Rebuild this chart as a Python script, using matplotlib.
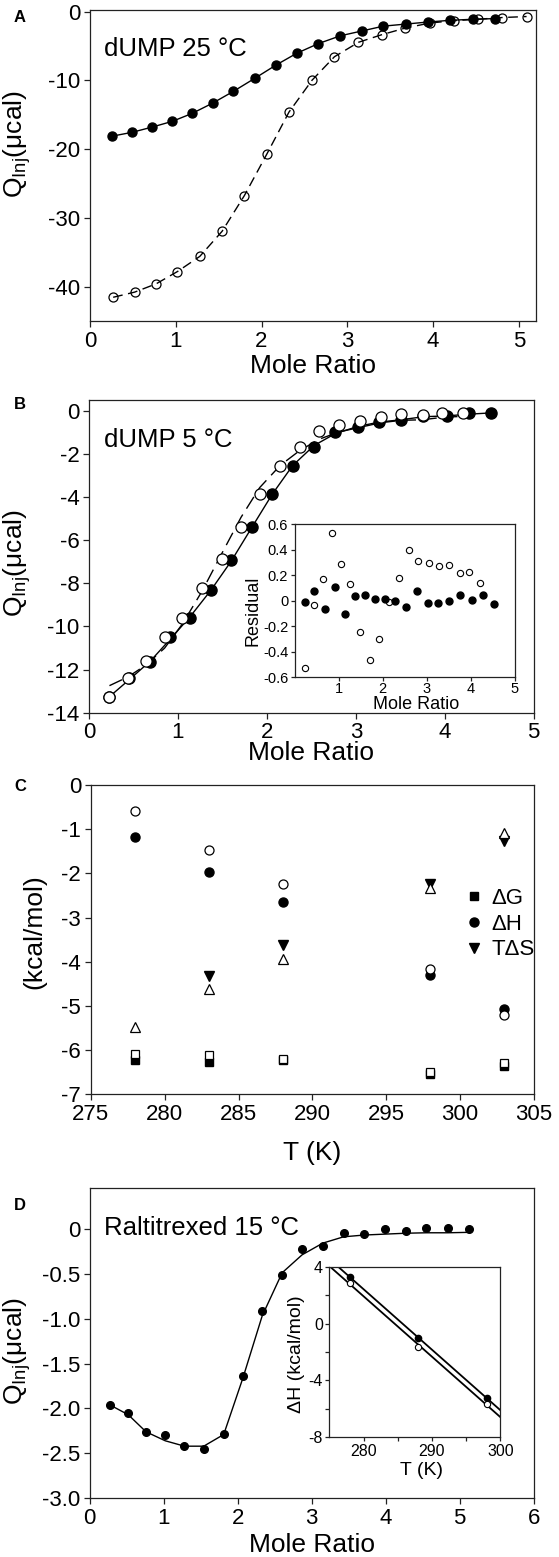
import matplotlib
matplotlib.use('Agg')
import matplotlib.pyplot as plt
import numpy as np
from matplotlib.lines import Line2D
from matplotlib.ticker import FuncFormatter

plt.rcParams['font.family'] = ['Liberation Sans', 'DejaVu Sans']
plt.rcParams['mathtext.default'] = 'regular'
plt.rcParams['axes.unicode_minus'] = False

# ---------------- Data ----------------
# Panel A: dUMP 25 C
a_fill_x = [0.26, 0.49, 0.72, 0.96, 1.19, 1.43, 1.67, 1.92, 2.17, 2.41, 2.66, 2.92,
            3.17, 3.42, 3.68, 3.94, 4.20, 4.46, 4.72]
a_fill_y = [-18.1, -17.55, -16.8, -15.95, -14.8, -13.3, -11.6, -9.7, -7.75, -6.05,
            -4.65, -3.5, -2.8, -2.1, -1.8, -1.5, -1.25, -1.1, -1.0]
a_open_x = [0.27, 0.52, 0.77, 1.02, 1.28, 1.54, 1.80, 2.06, 2.32, 2.59, 2.85, 3.13,
            3.40, 3.67, 3.96, 4.24, 4.52, 4.80, 5.09]
a_open_y = [-41.55, -40.8, -39.6, -37.8, -35.6, -31.95, -26.75, -20.75, -14.6, -9.95,
            -6.55, -4.45, -3.35, -2.4, -1.65, -1.3, -1.1, -0.85, -0.7]

# Panel B: dUMP 5 C
b_fill_x = [0.23, 0.45, 0.69, 0.91, 1.14, 1.37, 1.60, 1.83, 2.06, 2.29, 2.53, 2.77,
            3.02, 3.26, 3.51, 3.76, 4.02, 4.27, 4.52]
b_fill_y = [-13.27, -12.4, -11.67, -10.5, -9.63, -8.29, -6.92, -5.4, -3.86, -2.54,
            -1.66, -0.98, -0.75, -0.54, -0.42, -0.23, -0.23, -0.11, -0.12]
b_fill_res = [-0.012, 0.075, -0.064, 0.106, -0.10, 0.035, 0.046, 0.014, 0.012, -0.001,
              -0.048, 0.075, -0.02, -0.014, -0.004, 0.046, 0.007, 0.048, -0.022]
b_open_x = [0.23, 0.44, 0.64, 0.85, 1.05, 1.27, 1.49, 1.71, 1.92, 2.15, 2.37, 2.59,
            2.81, 3.05, 3.28, 3.51, 3.75, 3.97, 4.20]
b_open_y = [-13.27, -12.37, -11.62, -10.47, -9.6, -8.24, -6.89, -5.4, -3.86, -2.54,
            -1.66, -0.92, -0.67, -0.47, -0.28, -0.16, -0.2, -0.08, -0.12]
b_open_res = [-0.524, -0.033, 0.169, 0.535, 0.286, 0.132, -0.247, -0.464, -0.302, -0.007,
              0.182, 0.396, 0.312, 0.294, 0.273, 0.283, 0.216, 0.226, 0.137]

# Panel C: thermodynamics vs T
c_T = [278, 283, 288, 298, 303]
c_dG_fill = [-6.22, -6.28, -6.22, -6.53, -6.37]
c_dG_open = [-6.09, -6.12, -6.20, -6.50, -6.29]
c_dH_fill = [-1.18, -1.96, -2.64, -4.31, -5.08]
c_dH_open = [-0.58, -1.48, -2.24, -4.16, -5.20]
c_TdS_T_fill = [283, 288, 298, 303]
c_TdS_fill = [-4.32, -3.62, -2.23, -1.27]
c_TdS_open = [-5.48, -4.62, -3.94, -2.32, -1.09]

# Panel D: Raltitrexed 15 C
d_x = [0.27, 0.52, 0.76, 1.02, 1.28, 1.54, 1.81, 2.07, 2.33, 2.60, 2.87, 3.15, 3.43,
       3.71, 3.99, 4.27, 4.55, 4.84, 5.13]
d_y = [-1.96, -2.05, -2.26, -2.30, -2.42, -2.45, -2.28, -1.64, -0.92, -0.51, -0.23,
       -0.19, -0.045, -0.056, -0.004, -0.026, 0.007, 0.007, -0.007]
d_fit = [-1.96, -2.07, -2.26, -2.36, -2.42, -2.42, -2.29, -1.66, -0.97, -0.49, -0.29,
         -0.16, -0.09, -0.07, -0.06, -0.05, -0.045, -0.045, -0.04]
d_in_T = [278, 288, 298]
d_in_dH_fill = [3.3, -1.04, -5.21]
d_in_dH_open = [2.87, -1.67, -5.63]

# ---------------- Figure ----------------
W, H = 559, 1557
fig = plt.figure(figsize=(W / 100, H / 100), dpi=100)

def rect(l, t, r, b):
    return [l / W, 1 - b / H, (r - l) / W, (b - t) / H]

TICK = 16
LAB = 19
EC = '#222222'

def style(ax, ls=TICK):
    for s in ax.spines.values():
        s.set_linewidth(0.9)
        s.set_color(EC)
    ax.tick_params(direction='out', length=4, width=0.9, labelsize=ls, pad=3, color=EC)

def fmt_plain(v, pos):
    if abs(v) < 1e-9:
        return '0'
    return ('%g' % v)

ylab = 'Q$_{Inj}$(μcal)'

# Panel A
axA = fig.add_axes(rect(90, 10, 536, 321))
style(axA)
axA.plot(a_fill_x, a_fill_y, '-', color='black', lw=1.0, marker='o', ms=6.5,
         mfc='black', mec='black', zorder=3)
axA.plot(a_open_x, a_open_y, color='black', lw=1.0, dashes=(7, 4), marker='o', ms=6.5,
         mfc='none', mec='black', mew=0.9, zorder=3)
axA.set_xlim(0, 5.2)
axA.set_ylim(-45, 0.25)
axA.set_xticks([0, 1, 2, 3, 4, 5])
axA.set_yticks([0, -10, -20, -30, -40])
axA.set_xlabel('Mole Ratio', fontsize=LAB)
axA.set_ylabel(ylab, fontsize=LAB)
axA.xaxis.set_label_coords(0.5, -0.105)
axA.yaxis.set_label_coords(-0.128, 0.57)
axA.text(0.031, 0.852, 'dUMP 25 °C', transform=axA.transAxes, fontsize=18.5,
         va='baseline', ha='left')

# Panel B
axB = fig.add_axes(rect(89, 400, 533.7, 712.7))
style(axB)
b_fill_fit = np.array(b_fill_y) - np.array(b_fill_res)
b_open_fit = np.array(b_open_y) - np.array(b_open_res)
axB.plot(b_fill_x, b_fill_fit, '-', color='black', lw=1.0, zorder=2)
axB.plot(b_open_x, b_open_fit, color='black', lw=1.0, dashes=(10, 5), zorder=2)
axB.plot(b_fill_x, b_fill_y, 'o', ms=8, mfc='black', mec='black', zorder=3)
axB.plot(b_open_x, b_open_y, 'o', ms=8, mfc='white', mec='black', mew=0.9, zorder=4)
axB.set_xlim(0, 5)
axB.set_ylim(-14, 0.5)
axB.set_xticks([0, 1, 2, 3, 4, 5])
axB.set_yticks(list(range(0, -15, -2)))
axB.set_xlabel('Mole Ratio', fontsize=LAB)
axB.set_ylabel(ylab, fontsize=LAB)
axB.xaxis.set_label_coords(0.5, -0.09)
axB.yaxis.set_label_coords(-0.126, 0.48)
axB.text(0.034, 0.849, 'dUMP 5 °C', transform=axB.transAxes, fontsize=18.5,
         va='baseline', ha='left')

# Inset B
axBi = fig.add_axes(rect(294.5, 524.3, 514.8, 677.3))
style(axBi, ls=10.5)
axBi.tick_params(length=3, pad=1.5)
axBi.tick_params(axis='x', pad=0.5)
axBi.plot(b_open_x, b_open_res, 'o', ms=4.5, mfc='white', mec='black', mew=0.8, zorder=3)
axBi.plot(b_fill_x, b_fill_res, 'o', ms=5, mfc='black', mec='black', zorder=4)
axBi.set_xlim(0, 5)
axBi.set_ylim(-0.6, 0.6)
axBi.set_xticks([1, 2, 3, 4, 5])
axBi.set_yticks([0.6, 0.4, 0.2, 0, -0.2, -0.4, -0.6])
axBi.yaxis.set_major_formatter(FuncFormatter(fmt_plain))
axBi.set_xlabel('Mole Ratio', fontsize=13)
axBi.set_ylabel('Residual', fontsize=13)
axBi.xaxis.set_label_coords(0.55, -0.125)
axBi.yaxis.set_label_coords(-0.148, 0.433)

# Panel C
axC = fig.add_axes(rect(90.9, 785, 533.7, 1094.3))
style(axC)
axC.plot(c_T, c_dG_fill, 's', ms=6, mfc='black', mec='black', zorder=3)
axC.plot(c_T, c_dH_fill, 'o', ms=6.5, mfc='black', mec='black', zorder=3)
axC.plot(c_TdS_T_fill, c_TdS_fill, 'v', ms=7, mfc='black', mec='black', zorder=3)
axC.plot(c_T, c_dG_open, 's', ms=6, mfc='white', mec='black', mew=0.9, zorder=4)
axC.plot(c_T, c_dH_open, 'o', ms=6.5, mfc='white', mec='black', mew=0.9, zorder=4)
axC.plot(c_T, c_TdS_open, '^', ms=7, mfc='white', mec='black', mew=0.9, zorder=4)
axC.set_xlim(275, 305)
axC.set_ylim(-7, 0)
axC.set_xticks(list(range(275, 306, 5)))
axC.set_yticks(list(range(0, -8, -1)))
axC.set_xlabel('T (K)', fontsize=LAB)
axC.set_ylabel('(kcal/mol)', fontsize=LAB)
axC.xaxis.set_label_coords(0.5, -0.15)
axC.yaxis.set_label_coords(-0.1, 0.525)
handles = [Line2D([], [], ls='none', marker='s', ms=5.5, mfc='black', mec='black'),
           Line2D([], [], ls='none', marker='o', ms=6.5, mfc='black', mec='black'),
           Line2D([], [], ls='none', marker='v', ms=6.5, mfc='black', mec='black')]
axC.legend(handles, ['ΔG', 'ΔH', 'TΔS'], loc='upper left', bbox_to_anchor=(0.845, 0.668),
           frameon=False, fontsize=16, handlelength=0.8, handletextpad=0.4,
           labelspacing=0.22, borderpad=0, borderaxespad=0)

# Panel D
axD = fig.add_axes(rect(89.8, 1188.3, 533.7, 1498.3))
style(axD)
axD.plot(d_x, d_fit, '-', color='black', lw=1.0, zorder=2)
axD.plot(d_x, d_y, 'o', ms=5.5, mfc='black', mec='black', zorder=3)
axD.set_xlim(0, 6)
axD.set_ylim(-3, 0.45)
axD.set_xticks([0, 1, 2, 3, 4, 5, 6])
axD.set_yticks([0, -0.5, -1.0, -1.5, -2.0, -2.5, -3.0])
axD.yaxis.set_major_formatter(FuncFormatter(lambda v, p: '0' if abs(v) < 1e-9 else '%.1f' % v))
axD.set_xlabel('Mole Ratio', fontsize=LAB)
axD.set_ylabel(ylab, fontsize=LAB)
axD.xaxis.set_label_coords(0.5, -0.112)
axD.yaxis.set_label_coords(-0.128, 0.474)
axD.text(0.032, 0.849, 'Raltitrexed 15 °C', transform=axD.transAxes, fontsize=18.5,
         va='baseline', ha='left')

# Inset D
axDi = fig.add_axes(rect(329.3, 1266.7, 500.3, 1437.3))
style(axDi, ls=11.5)
axDi.tick_params(length=3, pad=1.5)
axDi.tick_params(which='minor', direction='out', length=3, width=0.9, color=EC)
Tline = np.array([275.0, 300.0])
pf = np.polyfit(d_in_T, d_in_dH_fill, 1)
po = np.polyfit(d_in_T, d_in_dH_open, 1)
axDi.plot(Tline, np.polyval(pf, Tline), '-', color='black', lw=1.3, zorder=2)
axDi.plot(Tline, np.polyval(po, Tline), '-', color='black', lw=1.3, zorder=2)
axDi.plot(d_in_T, d_in_dH_fill, 'o', ms=4.5, mfc='black', mec='black', zorder=3)
axDi.plot(d_in_T, d_in_dH_open, 'o', ms=4.5, mfc='white', mec='black', mew=0.8, zorder=4)
axDi.set_xlim(275, 300)
axDi.set_ylim(-8, 4)
axDi.set_xticks([280, 290, 300])
axDi.set_xticks([285, 295], minor=True)
axDi.set_yticks([4, 0, -4, -8])
axDi.set_yticks([2, -2, -6], minor=True)
axDi.set_xlabel('T (K)', fontsize=14)
axDi.set_ylabel('ΔH (kcal/mol)', fontsize=14)
axDi.xaxis.set_label_coords(0.54, -0.145)
axDi.yaxis.set_label_coords(-0.142, 0.488)

# Panel letters
for lab, y in [('A', 17), ('B', 405), ('C', 786), ('D', 1205)]:
    fig.text(20 / W, 1 - y / H, lab, fontsize=12, fontweight='bold', ha='center', va='center')

fig.savefig('out.png', dpi=100)
